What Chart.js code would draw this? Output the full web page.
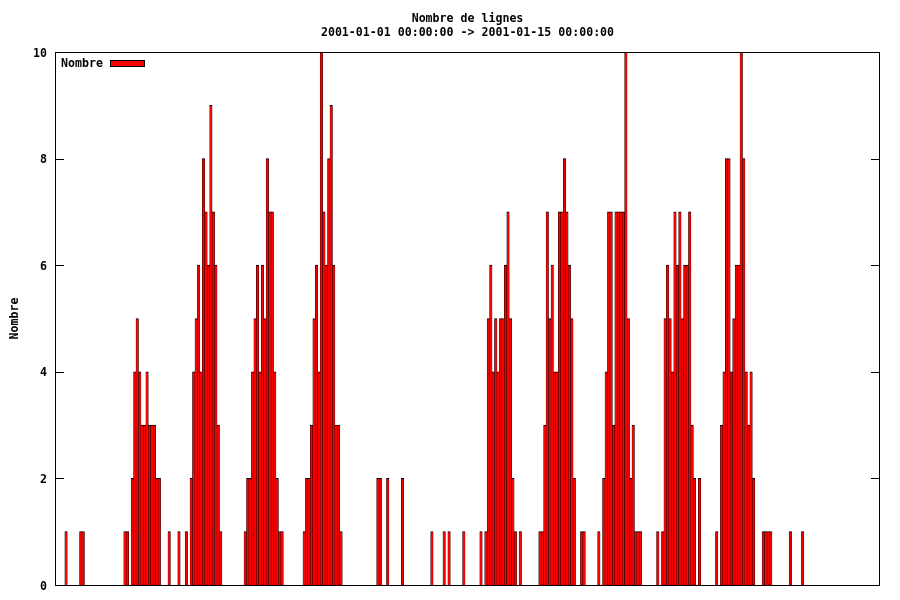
<!DOCTYPE html>
<html>
<head>
<meta charset="utf-8">
<script src="https://cdn.jsdelivr.net/npm/chart.js@4.4.1/dist/chart.umd.min.js"></script>
<style>
  html, body { margin: 0; padding: 0; background: #ffffff; }
  canvas { display: block; }
</style>
</head>
<body>
<canvas id="nombreLignes" width="900" height="600"></canvas>
<script>
// Nombre de lignes par heure, une liste par jour (00h -> 23h)
const jan01 = [0,0,0,0,1,0,0,0,0,0,1,1,0,0,0,0,0,0,0,0,0,0,0,0];
const jan02 = [0,0,0,0,1,1,0,2,4,5,4,3,3,4,3,3,3,2,2,0,0,0,1,0];
const jan03 = [0,0,1,0,0,1,0,2,4,5,6,4,8,7,6,9,7,6,3,1,0,0,0,0];
const jan04 = [0,0,0,0,0,1,2,2,4,5,6,4,6,5,8,7,7,4,2,1,1,0,0,0];
const jan05 = [0,0,0,0,0,1,2,2,3,5,6,4,10,7,6,8,9,6,3,3,1,0,0,0];
const jan06 = [0,0,0,0,0,0,0,0,0,0,0,2,2,0,0,2,0,0,0,0,0,2,0,0];
const jan07 = [0,0,0,0,0,0,0,0,0,1,0,0,0,0,1,0,1,0,0,0,0,0,1,0];
const jan08 = [0,0,0,0,0,1,0,1,5,6,4,5,4,5,5,6,7,5,2,1,0,1,0,0];
const jan09 = [0,0,0,0,0,1,1,3,7,5,6,4,4,7,7,8,7,6,5,2,0,0,1,1];
const jan10 = [0,0,0,0,0,1,0,2,4,7,7,3,7,7,7,7,10,5,2,3,1,1,1,0];
const jan11 = [0,0,0,0,0,1,0,1,5,6,5,4,7,6,7,5,6,6,7,3,2,0,2,0];
const jan12 = [0,0,0,0,0,1,0,3,4,8,8,4,5,6,6,10,8,4,3,4,2,0,0,0];
const jan13 = [1,1,1,1,0,0,0,0,0,0,0,1,0,0,0,0,1,0,0,0,0,0,0,0];
const jan14 = [0,0,0,0,0,0,0,0,0,0,0,0,0,0,0,0,0,0,0,0,0,0,0,0];

const jours = ['2001-01-01','2001-01-02','2001-01-03','2001-01-04','2001-01-05',
  '2001-01-06','2001-01-07','2001-01-08','2001-01-09','2001-01-10',
  '2001-01-11','2001-01-12','2001-01-13','2001-01-14'];
const yTicks = [0, 2, 4, 6, 8, 10];

const nombre = [].concat(jan01, jan02, jan03, jan04, jan05, jan06, jan07,
  jan08, jan09, jan10, jan11, jan12, jan13, jan14);

// une etiquette par heure (non affichee, comme l'original)
const heures = [];
jours.forEach(j => {
  for (let h = 0; h < 24; h++) {
    heures.push(j + ' ' + String(h).padStart(2, '0') + ':00:00');
  }
});

const police = "'DejaVu Sans Mono', 'Liberation Mono', monospace";

//Cadre, graduations interieures et legende facon gnuplot
const cadre = {
  id: 'cadre',
  afterDraw(chart) {
    const ctx = chart.ctx;
    const a = chart.chartArea;
    const y = chart.scales.y;
    ctx.save();
    ctx.strokeStyle = '#000000';
    ctx.lineWidth = 1;
    ctx.strokeRect(a.left + 0.5, a.top + 0.5, a.right - a.left - 1, a.bottom - a.top);

    ctx.beginPath();
    yTicks.forEach(v => {
      const py = Math.round(y.getPixelForValue(v)) + 0.5;
      ctx.moveTo(a.left, py);
      ctx.lineTo(a.left + 9, py);
      ctx.moveTo(a.right - 9, py);
      ctx.lineTo(a.right, py);
    });
    ctx.stroke();

    // legende : texte puis boite
    ctx.font = 'bold 11.6px ' + police;
    ctx.fillStyle = '#000000';
    ctx.textAlign = 'left';
    ctx.textBaseline = 'middle';
    ctx.fillText(chart.data.datasets[0].label, a.left + 6, a.top + 12);
    ctx.fillStyle = '#ff0000';
    ctx.fillRect(110, a.top + 8, 35, 7);
    ctx.strokeRect(110.5, a.top + 8.5, 34, 6);
    ctx.restore();
  }
};

Chart.defaults.font.family = police;
Chart.defaults.font.size = 11.6;
Chart.defaults.font.weight = 'bold';
Chart.defaults.color = '#000000';

const ctx = document.getElementById('nombreLignes').getContext('2d');

new Chart(ctx, {
  type: 'bar',
  data: {
    labels: heures,
    datasets: [{
      label: 'Nombre',
      data: nombre,
      backgroundColor: '#ff0000',
      borderColor: '#000000',
      borderWidth: { top: 1, left: 0.5, right: 0.5, bottom: 0 },
      barPercentage: 1,
      categoryPercentage: 1
    }]
  },
  options: {
    responsive: false,
    animation: false,
    layout: {
      padding: { left: 0, right: 20, top: 0, bottom: 15 }
    },
    plugins: {
      legend: { display: false },
      tooltip: { enabled: false },
      title: {
        display: true,
        fullSize: false,
        text: ['Nombre de lignes', '2001-01-01 00:00:00 -> 2001-01-15 00:00:00'],
        color: '#000000',
        font: { size: 11.6, weight: 'bold', lineHeight: '14px' },
        padding: { top: 12, bottom: 12 }
      }
    },
    scales: {
      x: {
        display: false
      },
      y: {
        min: 0,
        max: 10,
        afterFit(scale) {
          scale.width = 55;
        },
        afterBuildTicks(scale) {
          scale.ticks = yTicks.map(v => ({ value: v }));
        },
        ticks: {
          padding: 8,
          labelOffset: 1.5,
          color: '#000000'
        },
        grid: { display: false, drawTicks: false },
        border: { display: false },
        title: {
          display: true,
          text: 'Nombre',
          color: '#000000',
          padding: { top: 8, bottom: 0 }
        }
      }
    }
  },
  plugins: [cadre]
});
</script>
</body>
</html>
